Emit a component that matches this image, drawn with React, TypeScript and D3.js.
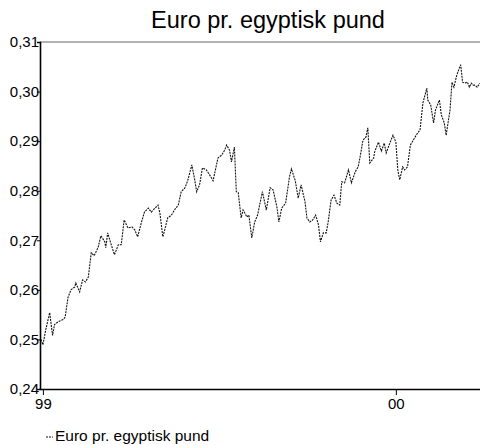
import { useRef, useEffect } from "react";
import * as d3 from "d3";

const TITLE = "Euro pr. egyptisk pund";
const SERIES_NAME = "Euro pr. egyptisk pund";

// days counted from 1 Jan 1999
const dayOffsets = [
  -2, 0, 3, 7, 10, 12, 16, 21, 23, 26, 29, 33, 34, 38, 41, 44, 47, 50, 53, 57,
  60, 64, 65, 67, 70, 74, 78, 81, 84, 88, 92, 95, 98, 102, 105, 109, 112, 116, 119, 121,
  124, 126, 129, 133, 136, 140, 143, 147, 150, 154, 157, 159, 162, 165, 169, 173, 176, 181, 185, 188,
  190, 193, 195, 198, 200, 202, 205, 207, 211, 213, 216, 219, 222, 227, 231, 235, 238, 242, 244, 247,
  251, 255, 257, 261, 264, 267, 271, 273, 276, 279, 282, 285, 287, 290, 293, 295, 298, 301, 304, 307,
  309, 312, 316, 319, 323, 326, 328, 331, 334, 336, 338, 342, 343, 347, 350, 353, 355, 358, 362, 365,
  367, 369, 372, 374, 377, 380, 383, 386, 390, 393, 397, 398, 401, 404, 406, 410, 412, 415, 417, 421,
  423, 425, 428, 430, 432, 434, 436, 439, 441, 443, 445, 447, 449, 452,
];

const rates = [
  0.2500, 0.2489, 0.2520, 0.2554, 0.2508, 0.2530, 0.2536, 0.2540, 0.2545, 0.2585,
  0.2600, 0.2606, 0.2614, 0.2596, 0.2620, 0.2616, 0.2626, 0.2675, 0.2669, 0.2685,
  0.2709, 0.2697, 0.2685, 0.2715, 0.2695, 0.2671, 0.2691, 0.2691, 0.2741, 0.2725,
  0.2727, 0.2721, 0.2707, 0.2737, 0.2757, 0.2765, 0.2757, 0.2765, 0.2771, 0.2755,
  0.2707, 0.2721, 0.2745, 0.2751, 0.2761, 0.2771, 0.2798, 0.2806, 0.2822, 0.2852,
  0.2822, 0.2798, 0.2812, 0.2846, 0.2842, 0.2830, 0.2820, 0.2866, 0.2872, 0.2882,
  0.2892, 0.2882, 0.2858, 0.2888, 0.2798, 0.2796, 0.2745, 0.2761, 0.2747, 0.2751,
  0.2705, 0.2737, 0.2751, 0.2798, 0.2761, 0.2806, 0.2802, 0.2767, 0.2737, 0.2765,
  0.2775, 0.2828, 0.2844, 0.2820, 0.2785, 0.2812, 0.2778, 0.2745, 0.2737, 0.2741,
  0.2751, 0.2731, 0.2697, 0.2715, 0.2715, 0.2737, 0.2781, 0.2791, 0.2775, 0.2771,
  0.2818, 0.2816, 0.2842, 0.2816, 0.2838, 0.2848, 0.2868, 0.2902, 0.2908, 0.2927,
  0.2856, 0.2866, 0.2878, 0.2898, 0.2880, 0.2896, 0.2876, 0.2892, 0.2912, 0.2898,
  0.2842, 0.2822, 0.2848, 0.2842, 0.2848, 0.2892, 0.2902, 0.2912, 0.2923, 0.2977,
  0.3007, 0.2983, 0.2973, 0.2937, 0.2963, 0.2983, 0.2953, 0.2937, 0.2912, 0.2963,
  0.3019, 0.3009, 0.3033, 0.3044, 0.3054, 0.3019, 0.3017, 0.3019, 0.3009, 0.3017,
  0.3013, 0.3013, 0.3009, 0.3017,
];

const yTicks = [0.24, 0.25, 0.26, 0.27, 0.28, 0.29, 0.3, 0.31];
const xTickYears = [1999, 2000];

const WIDTH = 480;
const HEIGHT = 445;
const PLOT = { left: 40, right: 480, top: 42, bottom: 389 };
const FONT = "'Liberation Sans', Arial, sans-serif";

export default function App() {
  const svgRef = useRef<SVGSVGElement>(null);

  useEffect(() => {
    if (!svgRef.current) return;
    const svg = d3.select(svgRef.current);
    svg.selectAll("*").remove();

    const base = new Date(1999, 0, 1);
    const data = dayOffsets.map((d, i) => ({ date: d3.timeDay.offset(base, d), v: rates[i] }));

    const x = d3
      .scaleTime()
      .domain([d3.timeDay.offset(base, -3), d3.timeDay.offset(base, 452)])
      .range([PLOT.left, PLOT.right]);
    const y = d3.scaleLinear().domain([0.24, 0.31]).range([PLOT.bottom, PLOT.top]);

    // title
    svg.append("text")
      .attr("x", 268)
      .attr("y", 28)
      .attr("text-anchor", "middle")
      .attr("font-family", FONT)
      .attr("font-size", 23.5)
      .attr("fill", "#000")
      .text(TITLE);

    // top frame line
    svg.append("line")
      .attr("x1", PLOT.left)
      .attr("x2", PLOT.right)
      .attr("y1", PLOT.top)
      .attr("y2", PLOT.top)
      .attr("stroke", "#666")
      .attr("stroke-width", 1);

    // series
    const line = d3.line<{ date: Date; v: number }>()
      .x((d) => x(d.date))
      .y((d) => y(d.v));
    svg.append("path")
      .datum(data)
      .attr("d", line)
      .attr("fill", "none")
      .attr("stroke", "#111")
      .attr("stroke-width", 1.1)
      .attr("stroke-dasharray", "2,1");

    // y axis
    const yAxis = svg.append("g")
      .attr("transform", `translate(${PLOT.left},0)`)
      .call(
        d3.axisLeft(y)
          .tickValues(yTicks)
          .tickSize(3)
          .tickPadding(-2)
          .tickFormat((d) => d3.format(".2f")(d as number).replace(".", ","))
      );
    yAxis.select(".domain").attr("stroke", "#000").attr("stroke-width", 1.6);
    yAxis.selectAll("text")
      .attr("font-family", FONT)
      .attr("font-size", 15)
      .attr("fill", "#000");

    // x axis
    const xAxis = svg.append("g")
      .attr("transform", `translate(0,${PLOT.bottom})`)
      .call(
        d3.axisBottom(x)
          .tickValues(xTickYears.map((yr) => new Date(yr, 0, 1)))
          .tickSize(6)
          .tickPadding(3)
          .tickSizeOuter(0)
          .tickFormat((d) => d3.timeFormat("%y")(d as Date))
      );
    xAxis.select(".domain").attr("stroke", "#000").attr("stroke-width", 1.6);
    xAxis.selectAll("text")
      .attr("font-family", FONT)
      .attr("font-size", 15)
      .attr("fill", "#000");

    // legend
    svg.append("line")
      .attr("x1", 46)
      .attr("x2", 53)
      .attr("y1", 437)
      .attr("y2", 437)
      .attr("stroke", "#111")
      .attr("stroke-width", 1)
      .attr("stroke-dasharray", "2,1");
    svg.append("text")
      .attr("x", 55)
      .attr("y", 441)
      .attr("font-family", FONT)
      .attr("font-size", 15.5)
      .attr("fill", "#000")
      .text(SERIES_NAME);
  }, []);

  return (
    <div>
      <style>{`body{margin:0}`}</style>
      <svg ref={svgRef} width={WIDTH} height={HEIGHT} style={{ display: "block", background: "#fff" }} />
    </div>
  );
}
